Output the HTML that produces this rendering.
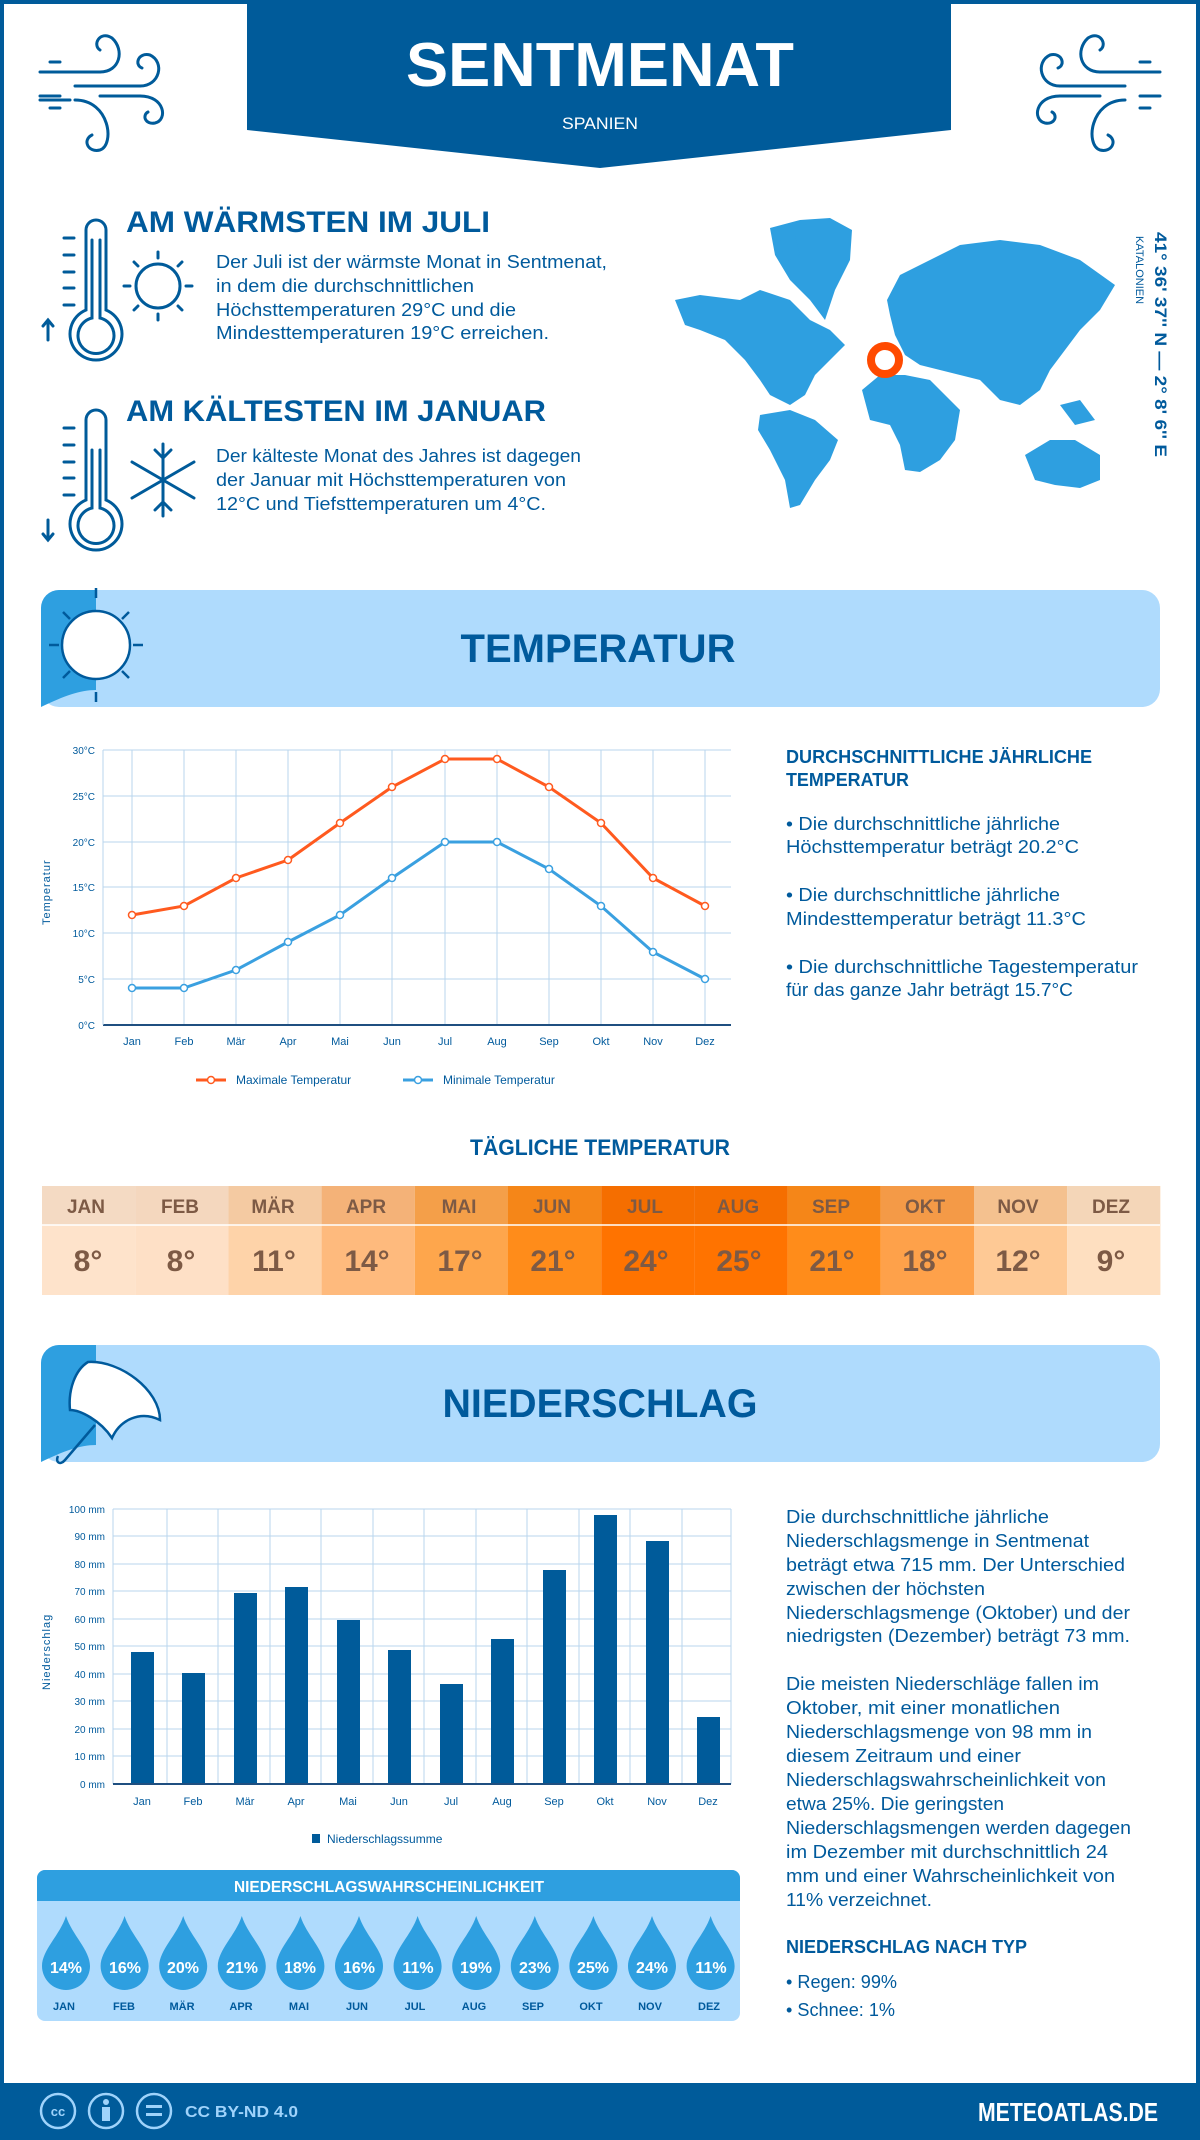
<!DOCTYPE html>
<html><head><meta charset="utf-8"><style>
html,body{margin:0;padding:0;background:#fff}
svg{display:block}
text{font-family:"Liberation Sans",sans-serif}
</style></head><body>
<svg width="1200" height="2140" viewBox="0 0 1200 2140" xmlns="http://www.w3.org/2000/svg">
<rect x="0" y="0" width="1200" height="2140" fill="#fff"/>
<rect x="2" y="2" width="1196" height="2136" fill="none" stroke="#005b9a" stroke-width="4"/>
<!-- header banner -->
<polygon points="247,0 951,0 951,130 600,168 247,130" fill="#005b9a"/>
<text x="600" y="86" text-anchor="middle" font-size="62" font-weight="bold" fill="#fff" textLength="388" lengthAdjust="spacingAndGlyphs">SENTMENAT</text>
<text x="600" y="129" text-anchor="middle" font-size="17" fill="#fff" textLength="76" lengthAdjust="spacingAndGlyphs">SPANIEN</text>
<!-- wind icons -->
<g fill="none" stroke="#005b9a" stroke-width="3" stroke-linecap="round">
<path d="M40,72 H100 M50,62 H60 M75,86 H140 M40,96 H60 M100,96 H140 M50,108 H60 M40,100 H70"/>
<path d="M100,72 C120,72 125,50 112,38 C100,30 92,45 100,50"/>
<path d="M140,86 C160,86 165,62 150,55 C138,52 134,65 142,68"/>
<path d="M140,96 C165,96 168,120 155,123 C145,125 142,115 148,112"/>
<path d="M75,100 C110,100 115,145 100,150 C88,153 82,140 92,135"/>
<path d="M1160,72 H1100 M1150,62 H1140 M1125,86 H1060 M1160,96 H1140 M1100,96 H1060 M1150,108 H1140"/>
<path d="M1100,72 C1080,72 1075,50 1088,38 C1100,30 1108,45 1100,50"/>
<path d="M1060,86 C1040,86 1035,62 1050,55 C1062,52 1066,65 1058,68"/>
<path d="M1060,96 C1035,96 1032,120 1045,123 C1055,125 1058,115 1052,112"/>
<path d="M1125,100 C1090,100 1085,145 1100,150 C1112,153 1118,140 1108,135"/>
</g>
<!-- warm / cold section -->
<g fill="none" stroke="#005b9a" stroke-width="3" stroke-linecap="round">
<path d="M86,230 V310 A26,26 0 1 0 106,310 V230 A10,10 0 0 0 86,230Z"/>
<path d="M92,240 V318 A18,18 0 1 0 100,318 V240"/>
<path d="M64,238 H74 M64,255 H74 M64,272 H74 M64,288 H74 M64,305 H74"/>
<path d="M48,340 V320 M43,326 L48,320 L53,326"/>
<circle cx="158" cy="286" r="22"/>
<path d="M158,252 V258 M158,314 V320 M124,286 H130 M186,286 H192 M134,262 L138,266 M178,306 L182,310 M134,310 L138,306 M178,266 L182,262"/>
<path d="M86,420 V500 A26,26 0 1 0 106,500 V420 A10,10 0 0 0 86,420Z"/>
<path d="M92,450 V508 A18,18 0 1 0 100,508 V450"/>
<path d="M64,428 H74 M64,445 H74 M64,462 H74 M64,478 H74 M64,495 H74"/>
<path d="M48,520 V540 M43,534 L48,540 L53,534"/>
<path d="M163,444 V516 M132,462 L194,498 M132,498 L194,462 M155,450 L163,458 L171,450 M155,510 L163,502 L171,510"/>
</g>
<g fill="#005a9c">
<text x="126" y="232" font-size="30" font-weight="bold" textLength="364" lengthAdjust="spacingAndGlyphs">AM WÄRMSTEN IM JULI</text>
<g font-size="18">
<text x="216" y="268" textLength="391" lengthAdjust="spacingAndGlyphs">Der Juli ist der wärmste Monat in Sentmenat,</text>
<text x="216" y="292" textLength="258" lengthAdjust="spacingAndGlyphs">in dem die durchschnittlichen</text>
<text x="216" y="316" textLength="300" lengthAdjust="spacingAndGlyphs">Höchsttemperaturen 29°C und die</text>
<text x="216" y="339" textLength="333" lengthAdjust="spacingAndGlyphs">Mindesttemperaturen 19°C erreichen.</text>
</g>
<text x="126" y="421" font-size="30" font-weight="bold" textLength="420" lengthAdjust="spacingAndGlyphs">AM KÄLTESTEN IM JANUAR</text>
<g font-size="18">
<text x="216" y="462" textLength="365" lengthAdjust="spacingAndGlyphs">Der kälteste Monat des Jahres ist dagegen</text>
<text x="216" y="486" textLength="350" lengthAdjust="spacingAndGlyphs">der Januar mit Höchsttemperaturen von</text>
<text x="216" y="510" textLength="330" lengthAdjust="spacingAndGlyphs">12°C und Tiefsttemperaturen um 4°C.</text>
</g>
</g>
<!-- map -->
<g fill="#2e9fe0">
<polygon points="770,228 800,220 830,218 852,230 850,260 835,290 825,320 810,300 790,280 775,255"/>
<polygon points="675,300 700,295 740,300 760,290 790,300 810,320 830,330 845,345 830,360 815,375 805,395 790,405 770,395 760,380 745,360 725,340 700,330 685,325"/>
<polygon points="760,415 790,410 815,420 838,440 830,460 815,480 800,505 790,508 785,480 770,450 758,430"/>
<polygon points="887,300 900,275 930,260 960,245 1000,240 1040,245 1080,260 1115,285 1100,310 1080,330 1065,350 1050,370 1040,390 1020,405 1000,400 980,380 960,375 940,370 920,365 905,355 895,335 890,315"/>
<polygon points="862,390 880,375 905,375 930,380 945,395 960,410 955,440 940,460 920,472 905,470 900,445 890,425 870,420"/>
<polygon points="1025,455 1050,440 1075,440 1100,455 1100,480 1080,488 1055,485 1035,480"/>
<polygon points="780,240 795,235 800,255 785,262"/>
<polygon points="1060,405 1080,400 1095,420 1075,425"/>
</g>
<circle cx="885" cy="360" r="14" fill="none" stroke="#ff4a00" stroke-width="8"/>
<text transform="translate(1155,232) rotate(90)" font-size="17" font-weight="bold" fill="#005a9c" textLength="225" lengthAdjust="spacingAndGlyphs">41° 36' 37'' N — 2° 8' 6'' E</text>
<text transform="translate(1136,236) rotate(90)" font-size="11" fill="#005a9c">KATALONIEN</text>

<!-- TEMPERATUR band -->
<rect x="41" y="590" width="1119" height="117" rx="18" fill="#afdbfd"/>
<path d="M59,590 H96 V690 C80,690 64,696 41,707 V608 A18,18 0 0 1 59,590Z" fill="#2e9fe0"/>
<g fill="none" stroke="#fff" stroke-width="2.5">
<circle cx="96" cy="645" r="34" fill="#fff" stroke="#005a9c"/>
<path d="M96,598 V588 M96,692 V702 M49,645 H59 M133,645 H143 M63,612 L70,619 M122,671 L129,678 M63,678 L70,671 M122,619 L129,612" stroke="#005a9c"/>
</g>
<text x="598" y="662" text-anchor="middle" font-size="40" font-weight="bold" fill="#005a9c" textLength="275" lengthAdjust="spacingAndGlyphs">TEMPERATUR</text>

<!-- temperature chart -->
<g stroke="#b8d6ee" stroke-width="1">
<line x1="103" y1="750" x2="731" y2="750"/><line x1="103" y1="796" x2="731" y2="796"/><line x1="103" y1="842" x2="731" y2="842"/><line x1="103" y1="887" x2="731" y2="887"/><line x1="103" y1="933" x2="731" y2="933"/><line x1="103" y1="979" x2="731" y2="979"/>
<line x1="132" y1="750" x2="132" y2="1025"/><line x1="184" y1="750" x2="184" y2="1025"/><line x1="236" y1="750" x2="236" y2="1025"/><line x1="288" y1="750" x2="288" y2="1025"/><line x1="340" y1="750" x2="340" y2="1025"/><line x1="392" y1="750" x2="392" y2="1025"/><line x1="445" y1="750" x2="445" y2="1025"/><line x1="497" y1="750" x2="497" y2="1025"/><line x1="549" y1="750" x2="549" y2="1025"/><line x1="601" y1="750" x2="601" y2="1025"/><line x1="653" y1="750" x2="653" y2="1025"/><line x1="705" y1="750" x2="705" y2="1025"/>
</g>
<line x1="103" y1="1025" x2="731" y2="1025" stroke="#1f4f80" stroke-width="2"/>
<line x1="103" y1="750" x2="103" y2="1025" stroke="#b8d6ee" stroke-width="1"/>
<g font-size="10" fill="#005a9c" text-anchor="end">
<text x="95" y="754">30°C</text><text x="95" y="800">25°C</text><text x="95" y="846">20°C</text><text x="95" y="891">15°C</text><text x="95" y="937">10°C</text><text x="95" y="983">5°C</text><text x="95" y="1029">0°C</text>
</g>
<g font-size="11" fill="#005a9c" text-anchor="middle">
<text x="132" y="1045">Jan</text><text x="184" y="1045">Feb</text><text x="236" y="1045">Mär</text><text x="288" y="1045">Apr</text><text x="340" y="1045">Mai</text><text x="392" y="1045">Jun</text><text x="445" y="1045">Jul</text><text x="497" y="1045">Aug</text><text x="549" y="1045">Sep</text><text x="601" y="1045">Okt</text><text x="653" y="1045">Nov</text><text x="705" y="1045">Dez</text>
</g>
<text transform="translate(50,925) rotate(-90)" font-size="11" fill="#005a9c" letter-spacing="1">Temperatur</text>
<polyline fill="none" stroke="#ff5a1f" stroke-width="3" points="132,915 184,906 236,878 288,860 340,823 392,787 445,759 497,759 549,787 601,823 653,878 705,906"/>
<polyline fill="none" stroke="#3aa0e0" stroke-width="3" points="132,988 184,988 236,970 288,942 340,915 392,878 445,842 497,842 549,869 601,906 653,952 705,979"/>
<g fill="#fff" stroke="#ff5a1f" stroke-width="1.5">
<circle cx="132" cy="915" r="3.5"/><circle cx="184" cy="906" r="3.5"/><circle cx="236" cy="878" r="3.5"/><circle cx="288" cy="860" r="3.5"/><circle cx="340" cy="823" r="3.5"/><circle cx="392" cy="787" r="3.5"/><circle cx="445" cy="759" r="3.5"/><circle cx="497" cy="759" r="3.5"/><circle cx="549" cy="787" r="3.5"/><circle cx="601" cy="823" r="3.5"/><circle cx="653" cy="878" r="3.5"/><circle cx="705" cy="906" r="3.5"/>
</g>
<g fill="#fff" stroke="#3aa0e0" stroke-width="1.5">
<circle cx="132" cy="988" r="3.5"/><circle cx="184" cy="988" r="3.5"/><circle cx="236" cy="970" r="3.5"/><circle cx="288" cy="942" r="3.5"/><circle cx="340" cy="915" r="3.5"/><circle cx="392" cy="878" r="3.5"/><circle cx="445" cy="842" r="3.5"/><circle cx="497" cy="842" r="3.5"/><circle cx="549" cy="869" r="3.5"/><circle cx="601" cy="906" r="3.5"/><circle cx="653" cy="952" r="3.5"/><circle cx="705" cy="979" r="3.5"/>
</g>
<line x1="196" y1="1080" x2="226" y2="1080" stroke="#ff5a1f" stroke-width="3"/><circle cx="211" cy="1080" r="3.5" fill="#fff" stroke="#ff5a1f" stroke-width="1.5"/>
<text x="236" y="1084" font-size="12" fill="#005a9c">Maximale Temperatur</text>
<line x1="403" y1="1080" x2="433" y2="1080" stroke="#3aa0e0" stroke-width="3"/><circle cx="418" cy="1080" r="3.5" fill="#fff" stroke="#3aa0e0" stroke-width="1.5"/>
<text x="443" y="1084" font-size="12" fill="#005a9c">Minimale Temperatur</text>

<g fill="#005a9c">
<text x="786" y="763" font-size="18" font-weight="bold" textLength="306" lengthAdjust="spacingAndGlyphs">DURCHSCHNITTLICHE JÄHRLICHE</text>
<text x="786" y="786" font-size="18" font-weight="bold" textLength="123" lengthAdjust="spacingAndGlyphs">TEMPERATUR</text>
<g font-size="18">
<text x="786" y="830" textLength="274" lengthAdjust="spacingAndGlyphs">• Die durchschnittliche jährliche</text>
<text x="786" y="853" textLength="293" lengthAdjust="spacingAndGlyphs">Höchsttemperatur beträgt 20.2°C</text>
<text x="786" y="901" textLength="274" lengthAdjust="spacingAndGlyphs">• Die durchschnittliche jährliche</text>
<text x="786" y="925" textLength="300" lengthAdjust="spacingAndGlyphs">Mindesttemperatur beträgt 11.3°C</text>
<text x="786" y="973" textLength="352" lengthAdjust="spacingAndGlyphs">• Die durchschnittliche Tagestemperatur</text>
<text x="786" y="996" textLength="287" lengthAdjust="spacingAndGlyphs">für das ganze Jahr beträgt 15.7°C</text>
</g>
<text x="600" y="1155" text-anchor="middle" font-size="22" font-weight="bold" textLength="260" lengthAdjust="spacingAndGlyphs">TÄGLICHE TEMPERATUR</text>
</g>

<!-- daily table -->
<g>
<rect x="42" y="1186" width="93.2" height="109" fill="#fee3cb"/>
<rect x="135.2" y="1186" width="93.2" height="109" fill="#fee0c6"/>
<rect x="228.4" y="1186" width="93.2" height="109" fill="#fed3a9"/>
<rect x="321.6" y="1186" width="93.2" height="109" fill="#feba7d"/>
<rect x="414.8" y="1186" width="93.2" height="109" fill="#fea64c"/>
<rect x="508" y="1186" width="93.2" height="109" fill="#ff8c1a"/>
<rect x="601.2" y="1186" width="93.2" height="109" fill="#ff7300"/>
<rect x="694.4" y="1186" width="93.2" height="109" fill="#ff7300"/>
<rect x="787.6" y="1186" width="93.2" height="109" fill="#ff8c1a"/>
<rect x="880.8" y="1186" width="93.2" height="109" fill="#fea14a"/>
<rect x="974" y="1186" width="93.2" height="109" fill="#fec995"/>
<rect x="1067.2" y="1186" width="93.2" height="109" fill="#fedfc0"/>
<rect x="42" y="1186" width="1118" height="39" fill="#000" opacity="0.04"/>
<line x1="42" y1="1225" x2="1160" y2="1225" stroke="#fff" stroke-width="1.5"/>
</g>
<g fill="#7d5a45" text-anchor="middle">
<g font-size="19" font-weight="bold">
<text x="86" y="1213">JAN</text><text x="180" y="1213">FEB</text><text x="273" y="1213">MÄR</text><text x="366" y="1213">APR</text><text x="459" y="1213">MAI</text><text x="552" y="1213">JUN</text><text x="645" y="1213">JUL</text><text x="738" y="1213">AUG</text><text x="831" y="1213">SEP</text><text x="925" y="1213">OKT</text><text x="1018" y="1213">NOV</text><text x="1111" y="1213">DEZ</text>
</g>
<g font-size="30" font-weight="bold">
<text x="88" y="1271">8°</text><text x="181" y="1271">8°</text><text x="274" y="1271">11°</text><text x="367" y="1271">14°</text><text x="460" y="1271">17°</text><text x="553" y="1271">21°</text><text x="646" y="1271">24°</text><text x="739" y="1271">25°</text><text x="832" y="1271">21°</text><text x="925" y="1271">18°</text><text x="1018" y="1271">12°</text><text x="1111" y="1271">9°</text>
</g>
</g>

<!-- NIEDERSCHLAG band -->
<rect x="41" y="1345" width="1119" height="117" rx="18" fill="#afdbfd"/>
<path d="M59,1345 H96 V1445 C80,1445 64,1451 41,1462 V1363 A18,18 0 0 1 59,1345Z" fill="#2e9fe0"/>
<path d="M88,1362 C120,1360 160,1390 160,1420 C140,1410 120,1420 112,1438 C100,1420 80,1410 70,1410 C68,1390 75,1370 88,1362Z" fill="#fff" stroke="#005a9c" stroke-width="2.5"/>
<path d="M95,1425 L65,1460 C60,1466 55,1462 58,1456" fill="none" stroke="#005a9c" stroke-width="2.5"/>
<text x="600" y="1417" text-anchor="middle" font-size="40" font-weight="bold" fill="#005a9c" textLength="315" lengthAdjust="spacingAndGlyphs">NIEDERSCHLAG</text>

<!-- precip chart -->
<g stroke="#b8d6ee" stroke-width="1">
<line x1="113" y1="1509" x2="731" y2="1509"/><line x1="113" y1="1536" x2="731" y2="1536"/><line x1="113" y1="1564" x2="731" y2="1564"/><line x1="113" y1="1591" x2="731" y2="1591"/><line x1="113" y1="1619" x2="731" y2="1619"/><line x1="113" y1="1646" x2="731" y2="1646"/><line x1="113" y1="1674" x2="731" y2="1674"/><line x1="113" y1="1701" x2="731" y2="1701"/><line x1="113" y1="1729" x2="731" y2="1729"/><line x1="113" y1="1756" x2="731" y2="1756"/>
<line x1="113" y1="1509" x2="113" y2="1784"/><line x1="167" y1="1509" x2="167" y2="1784"/><line x1="218" y1="1509" x2="218" y2="1784"/><line x1="270" y1="1509" x2="270" y2="1784"/><line x1="321" y1="1509" x2="321" y2="1784"/><line x1="373" y1="1509" x2="373" y2="1784"/><line x1="424" y1="1509" x2="424" y2="1784"/><line x1="476" y1="1509" x2="476" y2="1784"/><line x1="527" y1="1509" x2="527" y2="1784"/><line x1="579" y1="1509" x2="579" y2="1784"/><line x1="630" y1="1509" x2="630" y2="1784"/><line x1="682" y1="1509" x2="682" y2="1784"/><line x1="731" y1="1509" x2="731" y2="1784"/>
</g>
<g fill="#005b9a">
<rect x="131" y="1652" width="23" height="132"/><rect x="182" y="1673" width="23" height="111"/><rect x="234" y="1593" width="23" height="191"/><rect x="285" y="1587" width="23" height="197"/><rect x="337" y="1620" width="23" height="164"/><rect x="388" y="1650" width="23" height="134"/><rect x="440" y="1684" width="23" height="100"/><rect x="491" y="1639" width="23" height="145"/><rect x="543" y="1570" width="23" height="214"/><rect x="594" y="1515" width="23" height="269"/><rect x="646" y="1541" width="23" height="243"/><rect x="697" y="1717" width="23" height="67"/>
</g>
<line x1="113" y1="1784" x2="731" y2="1784" stroke="#1f4f80" stroke-width="2"/>
<g font-size="10" fill="#005a9c" text-anchor="end">
<text x="105" y="1513">100 mm</text><text x="105" y="1540">90 mm</text><text x="105" y="1568">80 mm</text><text x="105" y="1595">70 mm</text><text x="105" y="1623">60 mm</text><text x="105" y="1650">50 mm</text><text x="105" y="1678">40 mm</text><text x="105" y="1705">30 mm</text><text x="105" y="1733">20 mm</text><text x="105" y="1760">10 mm</text><text x="105" y="1788">0 mm</text>
</g>
<g font-size="11" fill="#005a9c" text-anchor="middle">
<text x="142" y="1805">Jan</text><text x="193" y="1805">Feb</text><text x="245" y="1805">Mär</text><text x="296" y="1805">Apr</text><text x="348" y="1805">Mai</text><text x="399" y="1805">Jun</text><text x="451" y="1805">Jul</text><text x="502" y="1805">Aug</text><text x="554" y="1805">Sep</text><text x="605" y="1805">Okt</text><text x="657" y="1805">Nov</text><text x="708" y="1805">Dez</text>
</g>
<text transform="translate(50,1690) rotate(-90)" font-size="11" fill="#005a9c" letter-spacing="1">Niederschlag</text>
<rect x="312" y="1834" width="8" height="9" fill="#005b9a"/>
<text x="327" y="1843" font-size="12" fill="#005a9c">Niederschlagssumme</text>

<!-- probability box -->
<rect x="37" y="1870" width="703" height="151" rx="8" fill="#afdbfd"/>
<path d="M45,1870 H732 A8,8 0 0 1 740,1878 V1901 H37 V1878 A8,8 0 0 1 45,1870Z" fill="#2e9fe0"/>
<text x="389" y="1892" text-anchor="middle" font-size="16" font-weight="bold" fill="#fff" textLength="310" lengthAdjust="spacingAndGlyphs">NIEDERSCHLAGSWAHRSCHEINLICHKEIT</text>
<g fill="#2e9fe0">
<path id="d" d="M66,1916 C72,1935 90,1950 90,1966 A24,24 0 0 1 42,1966 C42,1950 60,1935 66,1916Z"/>
<use href="#d" x="58.6"/><use href="#d" x="117.2"/><use href="#d" x="175.8"/><use href="#d" x="234.4"/><use href="#d" x="293"/><use href="#d" x="351.6"/><use href="#d" x="410.2"/><use href="#d" x="468.8"/><use href="#d" x="527.4"/><use href="#d" x="586"/><use href="#d" x="644.6"/>
</g>
<g fill="#fff" font-size="16" font-weight="bold" text-anchor="middle">
<text x="66" y="1973">14%</text><text x="125" y="1973">16%</text><text x="183" y="1973">20%</text><text x="242" y="1973">21%</text><text x="300" y="1973">18%</text><text x="359" y="1973">16%</text><text x="418" y="1973">11%</text><text x="476" y="1973">19%</text><text x="535" y="1973">23%</text><text x="593" y="1973">25%</text><text x="652" y="1973">24%</text><text x="711" y="1973">11%</text>
</g>
<g fill="#005a9c" font-size="11" font-weight="bold" text-anchor="middle">
<text x="64" y="2010">JAN</text><text x="124" y="2010">FEB</text><text x="182" y="2010">MÄR</text><text x="241" y="2010">APR</text><text x="299" y="2010">MAI</text><text x="357" y="2010">JUN</text><text x="415" y="2010">JUL</text><text x="474" y="2010">AUG</text><text x="533" y="2010">SEP</text><text x="591" y="2010">OKT</text><text x="650" y="2010">NOV</text><text x="709" y="2010">DEZ</text>
</g>

<!-- precip text -->
<g fill="#005a9c" font-size="18">
<text x="786" y="1523" textLength="263" lengthAdjust="spacingAndGlyphs">Die durchschnittliche jährliche</text>
<text x="786" y="1547" textLength="303" lengthAdjust="spacingAndGlyphs">Niederschlagsmenge in Sentmenat</text>
<text x="786" y="1571" textLength="339" lengthAdjust="spacingAndGlyphs">beträgt etwa 715 mm. Der Unterschied</text>
<text x="786" y="1595" textLength="199" lengthAdjust="spacingAndGlyphs">zwischen der höchsten</text>
<text x="786" y="1619" textLength="344" lengthAdjust="spacingAndGlyphs">Niederschlagsmenge (Oktober) und der</text>
<text x="786" y="1642" textLength="344" lengthAdjust="spacingAndGlyphs">niedrigsten (Dezember) beträgt 73 mm.</text>
<text x="786" y="1690" textLength="313" lengthAdjust="spacingAndGlyphs">Die meisten Niederschläge fallen im</text>
<text x="786" y="1714" textLength="274" lengthAdjust="spacingAndGlyphs">Oktober, mit einer monatlichen</text>
<text x="786" y="1738" textLength="306" lengthAdjust="spacingAndGlyphs">Niederschlagsmenge von 98 mm in</text>
<text x="786" y="1762" textLength="235" lengthAdjust="spacingAndGlyphs">diesem Zeitraum und einer</text>
<text x="786" y="1786" textLength="320" lengthAdjust="spacingAndGlyphs">Niederschlagswahrscheinlichkeit von</text>
<text x="786" y="1810" textLength="218" lengthAdjust="spacingAndGlyphs">etwa 25%. Die geringsten</text>
<text x="786" y="1834" textLength="345" lengthAdjust="spacingAndGlyphs">Niederschlagsmengen werden dagegen</text>
<text x="786" y="1858" textLength="322" lengthAdjust="spacingAndGlyphs">im Dezember mit durchschnittlich 24</text>
<text x="786" y="1882" textLength="329" lengthAdjust="spacingAndGlyphs">mm und einer Wahrscheinlichkeit von</text>
<text x="786" y="1906" textLength="146" lengthAdjust="spacingAndGlyphs">11% verzeichnet.</text>
<text x="786" y="1953" font-weight="bold" textLength="241" lengthAdjust="spacingAndGlyphs">NIEDERSCHLAG NACH TYP</text>
<text x="786" y="1988" textLength="111" lengthAdjust="spacingAndGlyphs">• Regen: 99%</text>
<text x="786" y="2016" textLength="109" lengthAdjust="spacingAndGlyphs">• Schnee: 1%</text>
</g>

<!-- footer -->
<rect x="0" y="2083" width="1200" height="57" fill="#005b9a"/>
<g fill="none" stroke="#9fd3fb" stroke-width="2.5">
<circle cx="58" cy="2111" r="17"/><circle cx="106" cy="2111" r="17"/><circle cx="154" cy="2111" r="17"/>
</g>
<text x="58" y="2116" text-anchor="middle" font-size="13" font-weight="bold" fill="#9fd3fb">cc</text>
<circle cx="106" cy="2102" r="3" fill="#9fd3fb"/><rect x="102" y="2107" width="8" height="14" fill="#9fd3fb"/>
<rect x="146" y="2105" width="16" height="3" fill="#9fd3fb"/><rect x="146" y="2113" width="16" height="3" fill="#9fd3fb"/>
<text x="185" y="2117" font-size="16" font-weight="bold" fill="#9fd3fb" textLength="113" lengthAdjust="spacingAndGlyphs">CC BY-ND 4.0</text>
<text x="1158" y="2121" text-anchor="end" font-size="26" font-weight="bold" fill="#fff" textLength="180" lengthAdjust="spacingAndGlyphs">METEOATLAS.DE</text>
</svg>
</body></html>
